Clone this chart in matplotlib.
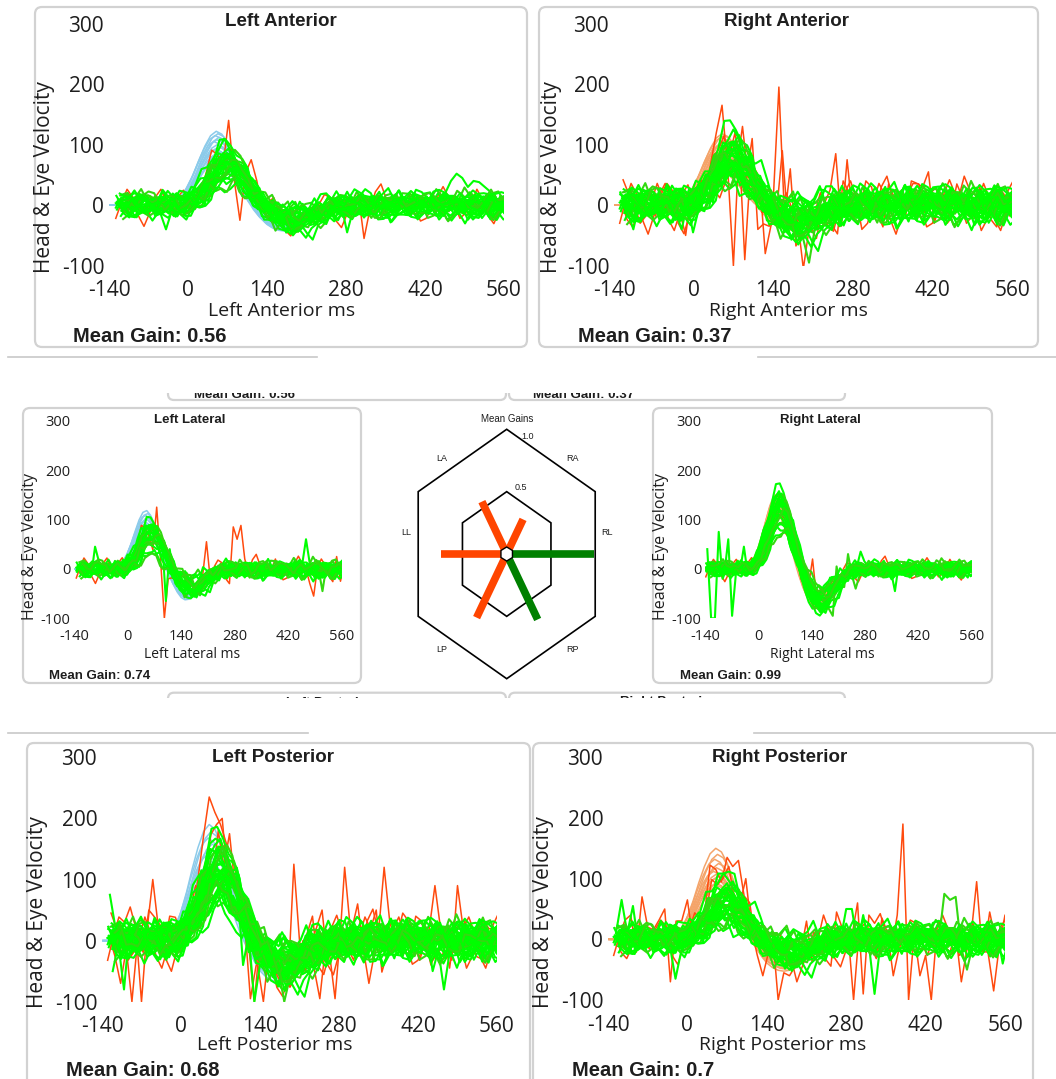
import matplotlib
matplotlib.use("Agg")
import matplotlib.pyplot as plt
from matplotlib.patches import FancyBboxPatch, Polygon
from matplotlib import font_manager
import numpy as np

W, H = 1056, 1079

# ---------------- data ----------------
TIME_MS = list(range(-140, 561, 10))
X_TICKS = [-140, 0, 140, 280, 420, 560]
Y_TICKS = [-100, 0, 100, 200, 300]

# normalised head impulse, every 10 ms from -30 to 270 ms (zero elsewhere)
CANAL_SHAPE = [0.01, 0.04, 0.12, 0.25, 0.42, 0.62, 0.80, 0.94, 1.00, 0.96, 0.84,
               0.66, 0.45, 0.25, 0.07, -0.07, -0.18, -0.26, -0.31, -0.34, -0.35,
               -0.34, -0.31, -0.27, -0.22, -0.17, -0.12, -0.08, -0.05, -0.03, -0.015]
LATERAL_SHAPE = [0.02, 0.06, 0.14, 0.27, 0.45, 0.65, 0.84, 0.97, 1.00, 0.92, 0.76,
                 0.55, 0.32, 0.10, -0.10, -0.27, -0.40, -0.49, -0.53, -0.52, -0.47,
                 -0.39, -0.30, -0.22, -0.15, -0.10, -0.06, -0.03, -0.015, -0.005, 0.0]

# small hand-read wiggle of the eye traces (deg/s per unit of panel noise)
JITTER = [2, -3, 5, 1, -4, -6, 0, 4, 7, 2, -2, -5, 1, 6, 3, -4, -8, -3, 3, 6,
          1, -2, 3, 5, -1, -5, -3, 2, 8, 4, -1, -7, -4, 1, 5, 3, -3, -1, 4, 7,
          1, -4, -6, -2, 2, 0, -3, 3, 6, 4, -5, -8, -3, 1, 4, -1, -2, 5, 8, 2,
          -3, -2, 0, 4, -1, -6, -5, -1, 3, 7, 3, 0, -5, -3, 1, 6, 2, -4, -7, -2,
          4, 3, -1, 3, 5, -2, -6, -3, 2, 1, -3, 1, 6, 5, -1, -5, 0, 3, -2, -4, 2]
EYE_LAG = [4, 9, 0, 13, 6, 17, 2, 11, 7, 15, 3, 10, 19, 5, 12, 8, 1, 14]
HEAD_LAG = [0, 3, -2, 5, 1, -4, 2, 4, -1, 6]

PANEL_NAMES = ["Left Anterior", "Right Anterior", "Left Lateral",
               "Right Lateral", "Left Posterior", "Right Posterior"]
MEAN_GAIN = [0.56, 0.37, 0.74, 0.99, 0.68, 0.7]

# head velocity peaks (one per impulse)
head_la = [122, 118, 115, 112, 108, 105, 100, 96, 92, 88, 84, 78, 72]
head_ra = [118, 115, 112, 108, 104, 100, 96, 92, 88, 84, 80, 75, 70, 65, 60, 55]
head_ll = [118, 112, 108, 104, 100, 96, 92, 88, 84]
head_rl = [152, 148, 144, 140, 136, 132, 128, 124, 120, 115, 110]
head_lp = [190, 178, 168, 158, 150, 140, 130]
head_rp = [150, 140, 132, 125, 118, 112, 108, 104, 100, 96, 92, 88]

# eye velocity peaks (one per impulse)
eye_la = [98, 92, 88, 85, 82, 80, 78, 76, 74, 72, 70, 68, 66, 64, 62, 60,
          58, 55, 52, 50, 46, 42, 38, 34, 86, 75, 65, 57, 48, 40]
eye_ra = [125, 118, 110, 105, 100, 96, 92, 90, 88, 85, 82, 80, 78, 75, 72,
          70, 68, 65, 62, 60, 58, 55, 52, 48, 45, 40, 36, 32, 28, 94, 84, 74,
          64, 54, 44]
eye_ll = [95, 92, 90, 88, 85, 82, 80, 78, 75, 72, 70, 66, 62, 58, 55, 50,
          45, 40, 35, 30, 86, 76, 68, 60]
eye_rl = [165, 160, 155, 150, 146, 142, 138, 135, 132, 128, 125, 122, 118,
          115, 112, 108, 105, 100, 96, 92, 88, 84, 80, 75, 140, 130, 120, 110]
eye_lp = [170, 165, 160, 155, 150, 145, 140, 135, 130, 128, 125, 122, 120,
          118, 115, 112, 110, 108, 105, 100, 98, 95, 92, 90, 88, 85, 82, 80,
          75, 70, 65, 60, 55, 50, 138, 126, 114, 102, 94, 86, 78]
eye_rp = [95, 90, 85, 82, 80, 78, 75, 72, 70, 68, 65, 62, 60, 58, 55, 52, 50,
          48, 45, 42, 40, 38, 35, 32, 28, 25, 22, 20, 88, 76, 66, 56, 46, 36]

red_peaks_la = [70]
red_la = [[(60, 140), (80, -25), (100, 75), (110, 40), (300, -55)]]
red_peaks_ra = [90, 70, 60]
red_ra = [[(40, 165), (50, 60), (60, -100), (70, 100), (80, -90), (90, 60),
           (140, 195), (150, -20), (160, 60), (240, 85), (260, 75), (320, 30)],
          [(20, 80), (30, 90), (60, 120), (90, 110), (100, -40), (180, -105),
           (250, 40), (290, 40), (330, 35), (370, 40), (400, 55), (450, 35)],
          [(-30, -50), (0, 20), (70, 130), (110, -80), (140, 90), (200, -55),
           (280, -40), (380, 35), (510, 25)]]
red_peaks_ll = [70]
red_ll = [[(70, 125), (80, 20), (90, -100), (100, -20), (200, 55), (270, 85),
           (280, 60), (290, 88), (300, 20), (380, 20), (470, -30), (480, -55),
           (500, 20), (540, 25), (550, -25)]]
red_peaks_rl = [110]
red_rl = [[(60, 110), (140, 20)]]
red_peaks_lp = [150, 130, 120]
red_lp = [[(-110, 30), (-100, 55), (-90, 20), (-80, -100), (-60, 100), (-50, 20),
           (-30, 40), (20, 100), (40, 235), (50, 210), (60, 190), (70, 160),
           (80, 140), (100, 60), (120, -100), (190, 125), (200, 0), (240, 50),
           (280, 120), (290, 20), (350, 120), (360, 30), (440, 90), (480, 90),
           (490, 20)],
          [(-120, -70), (-100, -100), (-70, 50), (-40, -30), (30, 110), (50, 190),
           (60, 200), (80, 110), (110, -95), (150, -60), (220, 40), (260, -95),
           (300, 60), (320, -70), (380, 45), (430, -40), (520, -30)],
          [(10, 90), (50, 180), (70, 175), (90, 80), (130, -100), (170, -60),
           (230, -95), (330, 50), (400, 40), (460, -45), (540, 20)]]
red_peaks_rp = [100, 90]
red_rp = [[(-110, 40), (-90, 70), (-80, 20), (-50, 50), (-40, -70), (-30, 30),
           (-10, 65), (20, 40), (60, 135), (70, 120), (80, 130), (100, 60),
           (150, -100), (170, -60), (200, 30), (230, 40), (290, 60), (300, -90),
           (310, 40), (360, 40), (370, 190), (380, -100), (390, 10), (400, -60),
           (420, -100), (440, 40), (500, 95), (510, -20), (530, -85), (550, 40),
           (560, -70)],
          [(40, 90), (60, 120), (90, 100), (120, -60), (180, -70), (250, 45),
           (280, -100), (330, 35), (350, -60), (430, 30), (470, -70), (520, 45)]]

# odd excursions on individual green traces
green_la = [[(440, 20), (450, 40), (460, 52), (470, 45), (480, 30), (490, 40),
             (500, 38), (510, 30), (520, 22)],
            [(-60, -40), (-50, -10)], [(270, -45), (280, -10)]]
green_ra = [[(-120, -40), (-110, 0)], [(-40, -40), (-20, -45), (0, -10)],
            [(60, 125), (70, 110)], [(180, -95), (190, -40)]]
green_ll = [[(90, -65), (100, 40)], [(-100, 45), (-90, 15)], [(460, 60), (470, 10)],
            [(490, -45), (500, 5)]]
green_rl = [[(-140, 40), (-130, -100), (-120, -100), (-110, 75), (-100, -20)],
            [(-90, 60), (-80, -95), (-60, 10)], [(-40, 45), (-30, -10)],
            [(180, -95), (190, 5), (220, 30), (240, -40)],
            [(260, 35), (270, 15), (350, -45), (360, 10)], [(540, 15), (560, 45)]]
green_lp = [[(-140, 75), (-130, 20)], [(-140, -50), (-120, -80), (-110, 20)],
            [(100, -40), (120, -100)], [(160, -100), (170, -60)],
            [(430, -50), (450, -80), (460, -20)]]
green_rp = [[(-130, 65), (-120, 10), (-110, 55), (-90, 10)], [(-40, -65), (-30, -20)],
            [(270, 50), (280, 50), (300, 40), (320, -90), (330, -10)],
            [(430, 75), (440, 65), (450, 70), (470, -50), (480, -10)],
            [(540, -40), (560, -80)]]

# radar of mean gains
RADAR_LABELS = ["RL", "RA", "LA", "LL", "LP", "RP"]
RADAR_ANGLES = [0, 60, 120, 180, 240, 300]
RADAR_GAINS = [0.99, 0.37, 0.56, 0.74, 0.68, 0.70]
RADAR_COLORS = ["#008000", "#FF4500", "#FF4500", "#FF4500", "#FF4500", "#008000"]
RADAR_RINGS = [0.5, 1.0]

# ---------------- styling ----------------
SKY = "#8ccbea"
SAND = "#f4a46a"
RED = "#ff4a0e"
GREEN = "#00ff00"
GREEN2 = "#33d911"
TXT = "#1e1e1e"
BORDER = "#d2d2d2"

plt.rcParams["axes.unicode_minus"] = False

names = {f.name for f in font_manager.fontManager.ttflist}
REG = "Open Sans" if "Open Sans" in names else "DejaVu Sans"
BOLD = "Liberation Sans" if "Liberation Sans" in names else "DejaVu Sans"
NARROW = "Liberation Sans Narrow" if "Liberation Sans Narrow" in names else BOLD

fig = plt.figure(figsize=(W / 100, H / 100), dpi=100)

# full-figure overlay in pixel units for boxes and free text
ov = fig.add_axes([0, 0, 1, 1])
ov.set_xlim(0, W)
ov.set_ylim(H, 0)
ov.axis("off")


def px_axes(x0, x1, y0, y1):
    return fig.add_axes([x0 / W, 1 - y1 / H, (x1 - x0) / W, (y1 - y0) / H])


def box(axis, x0, y0, x1, y1, r=7):
    axis.add_patch(FancyBboxPatch((x0, y0), x1 - x0, y1 - y0,
                                  boxstyle=f"round,pad=0,rounding_size={r}",
                                  fc="none", ec=BORDER, lw=1.6))


def apply_events(y, events):
    for tm, v in events:
        y[TIME_MS.index(tm)] = v
    return y


def trace_panel(geom, shape, head, head_color, eye, lag, noise,
                red_peaks, red_events, green_events, tsize, xpad, ypad):
    ax = px_axes(*geom)
    ax.set_facecolor("none")
    t = np.array(TIME_MS, dtype=float)
    s = np.array([0.0] * 11 + shape + [0.0] * 29)
    jit = np.array(JITTER, dtype=float)
    L = len(jit)
    idx = np.arange(len(t))
    for k, pk in enumerate(head):
        ax.plot(t + HEAD_LAG[k % len(HEAD_LAG)], pk * s, color=head_color,
                lw=1.1, zorder=1)
    for k, pk in enumerate(red_peaks):
        y = pk * s + 2.3 * noise * jit[(idx + 29 * k + 11) % L]
        y = apply_events(y, red_events[k])
        ax.plot(t + lag + 3 * k, y, color=RED, lw=1.1, zorder=2)
    for k, pk in enumerate(eye):
        y = (pk * s + noise * jit[(idx + 17 * k) % L]
             + 0.5 * noise * jit[(2 * idx + 7 * k + 3) % L]
             + 0.9 * noise * jit[(5 * k) % L])
        if k < len(green_events):
            y = apply_events(y, green_events[k])
        c = GREEN2 if k % 4 == 3 else GREEN
        ax.plot(t + lag + EYE_LAG[k % len(EYE_LAG)], y, color=c, lw=1.5, zorder=3)
    ax.set_xlim(-140, 560)
    ax.set_ylim(-100, 300)
    ax.set_xticks(X_TICKS)
    ax.set_yticks(Y_TICKS)
    ax.tick_params(length=0, labelsize=tsize, labelcolor=TXT)
    ax.tick_params(axis="x", pad=xpad)
    ax.tick_params(axis="y", pad=ypad)
    for lab in ax.get_xticklabels() + ax.get_yticklabels():
        lab.set_fontfamily(REG)
    for sp in ax.spines.values():
        sp.set_visible(False)
    return ax


big = dict(tsize=15, xpad=10.5, ypad=3.5)
small = dict(tsize=10.5, xpad=8, ypad=2.5)

trace_panel((109, 504, 23.5, 265.7), CANAL_SHAPE, head_la, SKY, eye_la, 12, 1.9,
            red_peaks_la, red_la, green_la, **big)
trace_panel((614, 1012, 23.5, 265.7), CANAL_SHAPE, head_ra, SAND, eye_ra, 10, 2.6,
            red_peaks_ra, red_ra, green_ra, **big)
trace_panel((74, 342, 420.7, 618.3), LATERAL_SHAPE, head_ll, SKY, eye_ll, 6, 1.6,
            red_peaks_ll, red_ll, green_ll, **small)
trace_panel((705, 972, 420.7, 618.3), LATERAL_SHAPE, head_rl, SAND, eye_rl, 2, 1.4,
            red_peaks_rl, red_rl, green_rl, **small)
trace_panel((102, 497, 757.3, 1001.7), CANAL_SHAPE, head_lp, SKY, eye_lp, 10, 2.8,
            red_peaks_lp, red_lp, green_lp, **big)
trace_panel((608, 1005, 757.3, 1000), CANAL_SHAPE, head_rp, SAND, eye_rp, 10, 2.3,
            red_peaks_rp, red_rp, green_rp, **big)

# panel frames and texts
frames = [
    # box, title, xlabel, mean gain, ylabel, sizes (title, label, gain, ylabel)
    ((35, 7, 527, 347), (281, 22), (282, 311), (73, 336), (45, 177), (13.5, 14, 14.5, 15)),
    ((539, 7, 1038, 347), (787, 22), (788, 311), (578, 336), (551, 177), (13.5, 14, 14.5, 15)),
    ((23, 408, 361, 683), (190, 420), (192, 655), (49, 676), (30, 547), (9.5, 10, 9.5, 11.5)),
    ((653, 408, 992, 683), (820, 420), (822, 655), (680, 676), (661, 547), (9.5, 10, 9.5, 11.5)),
    ((27, 743, 530, 1100), (273, 757), (275, 1045), (66, 1070), (38, 912), (13.5, 14, 14.5, 15)),
    ((533, 743, 1033, 1100), (780, 757), (783, 1045), (572, 1070), (544, 912), (13.5, 14, 14.5, 15)),
]
for name, gain, fr in zip(PANEL_NAMES, MEAN_GAIN, frames):
    bx, ti, xl, mg, yl, sz = fr
    box(ov, *bx)
    ov.text(ti[0], ti[1], name, ha="center", va="center", fontsize=sz[0],
            fontweight="bold", family=BOLD, color=TXT)
    ov.text(xl[0], xl[1], name + " ms", ha="center", va="center", fontsize=sz[1],
            family=REG, color=TXT)
    ov.text(mg[0], mg[1], f"Mean Gain: {gain}", ha="left", va="center",
            fontsize=sz[2], fontweight="bold", family=BOLD, color=TXT)
    ov.text(yl[0], yl[1], "Head & Eye Velocity", ha="center", va="center",
            rotation=90, fontsize=sz[3], family=REG, color=TXT)

# separator lines
for y, segs in ((357, [(8, 317), (758, 1056)]), (733, [(8, 308), (754, 1056)])):
    for a, b in segs:
        ov.plot([a, b], [y, y], color="#c8c8c8", lw=1.2)

# clipped strips of a scrolled copy
top_strip = px_axes(0, W, 392.7, 402)
top_strip.set_xlim(0, W)
top_strip.set_ylim(402, 392.7)
top_strip.axis("off")
box(top_strip, 168, 300, 506, 400, r=6)
box(top_strip, 509, 300, 845, 400, r=6)
for x, g in ((194, MEAN_GAIN[0]), (533, MEAN_GAIN[1])):
    top_strip.text(x, 398.5, f"Mean Gain: {g}", ha="left", va="baseline",
                   fontsize=9.5, fontweight="bold", family=BOLD, color=TXT,
                   clip_on=True)

bot_strip = px_axes(0, W, 690, 698)
bot_strip.set_xlim(0, W)
bot_strip.set_ylim(698, 690)
bot_strip.axis("off")
box(bot_strip, 168, 692.7, 506, 800, r=6)
box(bot_strip, 509, 692.7, 845, 800, r=6)
for x, nm in ((329, PANEL_NAMES[4]), (668, PANEL_NAMES[5])):
    bot_strip.text(x, 696.5, nm, ha="center", va="top", fontsize=9.5,
                   fontweight="bold", family=BOLD, color=TXT, clip_on=True)

# radar of mean gains
cx, cy, sx, sy = 506.7, 554.0, 88.5, 108.0
rad = px_axes(380, 634, 405, 690)
rad.set_xlim((380 - cx) / sx, (634 - cx) / sx)
rad.set_ylim((cy - 690) / sy, (cy - 405) / sy)
rad.axis("off")
hex_ang = np.radians([30, 90, 150, 210, 270, 330])
for r in RADAR_RINGS:
    rr = r / np.cos(np.radians(30))
    rad.add_patch(Polygon(np.c_[rr * np.cos(hex_ang), rr * np.sin(hex_ang)],
                          closed=True, fill=False, ec="black", lw=1.2, zorder=1))
for ang, g, c in zip(RADAR_ANGLES, RADAR_GAINS, RADAR_COLORS):
    a = np.radians(ang)
    rad.plot([0, g * np.cos(a)], [0, g * np.sin(a)], color=c, lw=5.5,
             solid_capstyle="butt", zorder=2)
rad.add_patch(Polygon(np.c_[0.075 * np.cos(hex_ang), 0.065 * np.sin(hex_ang)],
                      closed=True, fc="white", ec="black", lw=1.0, zorder=3))
for lab, ang in zip(RADAR_LABELS, [10, 50, 130, 170, 230, 310]):
    a = np.radians(ang)
    rad.text(1.15 * np.cos(a), 1.15 * np.sin(a), lab, ha="center", va="center",
             fontsize=6.5, family=NARROW, color=TXT)
rad.text(0.17, 1.087, "1.0", ha="left", va="center", fontsize=6.5, family=NARROW, color=TXT)
rad.text(0.085, 0.618, "0.5", ha="left", va="center", fontsize=6.5, family=NARROW, color=TXT)
rad.text(0, 1.25, "Mean Gains", ha="center", va="center", fontsize=7,
         family=NARROW, color=TXT)

fig.savefig("out.png", dpi=100)
